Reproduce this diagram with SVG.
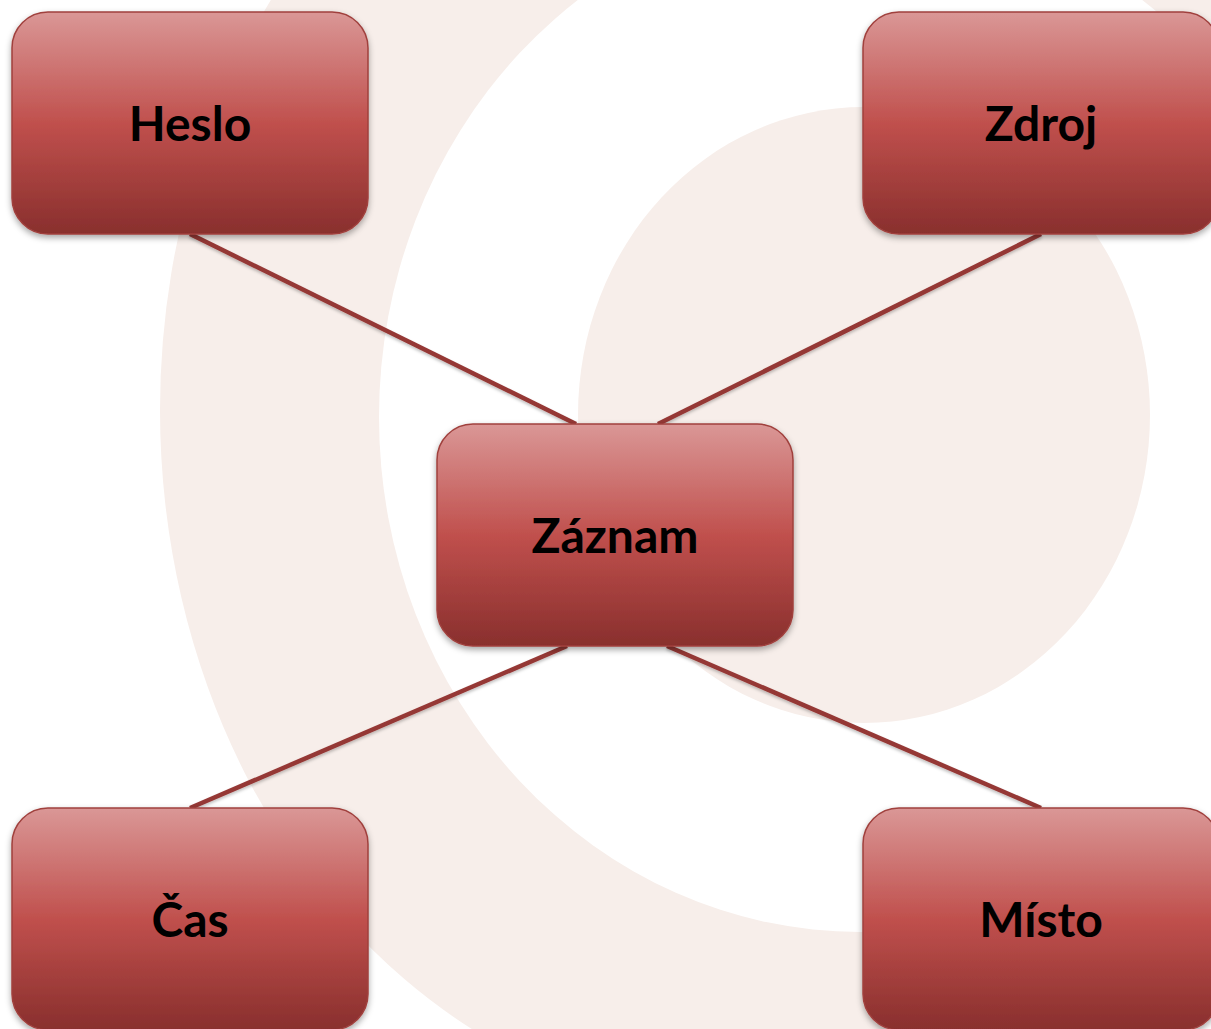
<svg xmlns="http://www.w3.org/2000/svg" width="1211" height="1029" viewBox="0 0 1211 1029">
  <defs>
    <linearGradient id="boxGrad" x1="0" y1="0" x2="0" y2="1">
      <stop offset="0" stop-color="#DA9796"/>
      <stop offset="0.5" stop-color="#C0504D"/>
      <stop offset="1" stop-color="#892F2D"/>
    </linearGradient>
    <filter id="shadow" x="-10%" y="-10%" width="120%" height="130%">
      <feDropShadow dx="0" dy="3" stdDeviation="3" flood-color="#000" flood-opacity="0.35"/>
    </filter>
    <filter id="lineShadow" x="-10%" y="-10%" width="120%" height="130%">
      <feDropShadow dx="0" dy="2" stdDeviation="1.5" flood-color="#000" flood-opacity="0.25"/>
    </filter>
  </defs>
  <style>
    .bg { fill: #F7EEEA; }
    .box { fill: url(#boxGrad); stroke: #A0403D; stroke-width: 1.5; filter: url(#shadow); }
    .label { font-family: Lato, "Open Sans", "Liberation Sans", sans-serif; font-weight: bold; font-size: 48px; fill: #000; text-anchor: middle; }
    .conn { stroke: #953735; stroke-width: 4.5; fill: none; filter: url(#lineShadow); }
  </style>
  <rect x="0" y="0" width="1211" height="1029" fill="#FFFFFF"/>
  <g id="background">
    <path class="bg" d="M 1330,410 A 585 700 0 0 0 745,-290 A 585 700 0 0 0 160,410 A 585 700 0 0 0 471.8,1029 L 471.8,1060 L 1000,1060 L 1240,640 Z"/>
    <ellipse cx="860" cy="417" rx="481" ry="515" fill="#FFFFFF"/>
    <ellipse class="bg" cx="864" cy="415" rx="286" ry="308"/>
  </g>
  <g id="connectors">
    <line class="conn" x1="190" y1="234" x2="576" y2="424"/>
    <line class="conn" x1="1041" y1="234" x2="658" y2="424"/>
    <line class="conn" x1="567" y1="646" x2="190" y2="808"/>
    <line class="conn" x1="667" y1="646" x2="1041" y2="808"/>
  </g>
  <g id="node-heslo">
    <rect class="box" x="12" y="12" width="356" height="222" rx="36" ry="36"/>
    <text class="label" x="190" y="141">Heslo</text>
  </g>
  <g id="node-zdroj">
    <rect class="box" x="863" y="12" width="356" height="222" rx="36" ry="36"/>
    <text class="label" x="1041" y="141">Zdroj</text>
  </g>
  <g id="node-zaznam">
    <rect class="box" x="437" y="424" width="356" height="222" rx="36" ry="36"/>
    <text class="label" x="615" y="553">Záznam</text>
  </g>
  <g id="node-cas">
    <rect class="box" x="12" y="808" width="356" height="222" rx="36" ry="36"/>
    <text class="label" x="190" y="937">Čas</text>
  </g>
  <g id="node-misto">
    <rect class="box" x="863" y="808" width="356" height="222" rx="36" ry="36"/>
    <text class="label" x="1041" y="937">Místo</text>
  </g>
</svg>
